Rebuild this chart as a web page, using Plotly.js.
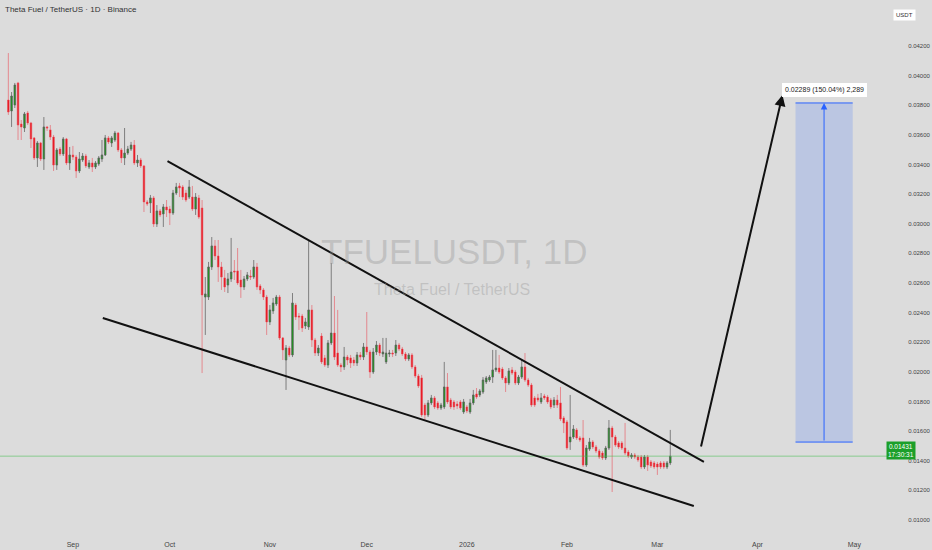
<!DOCTYPE html>
<html>
<head>
<meta charset="utf-8">
<script src="https://cdn.plot.ly/plotly-3.0.1.min.js"></script>
<style>
html,body{margin:0;padding:0;background:#dcdcdc;}
#chart{width:932px;height:550px;}
</style>
</head>
<body>
<div id="chart"></div>
<script>
// Daily candles, first candle date; one candle per day
const startDate = '2025-08-12';

const openP = [0.03835,0.03761,0.03801,0.03950,0.03673,0.03646,0.03747,0.03680,0.03579,0.03444,
0.03545,0.03437,0.03653,0.03633,0.03585,0.03396,0.03504,0.03471,0.03572,0.03410,
0.03464,0.03450,0.03356,0.03430,0.03457,0.03383,0.03410,0.03383,0.03403,0.03437,
0.03464,0.03579,0.03545,0.03565,0.03612,0.03498,0.03444,0.03477,0.03504,0.03531,
0.03410,0.03430,0.03390,0.03147,0.03140,0.03174,0.02998,0.03086,0.03066,0.03113,
0.03099,0.03072,0.03207,0.03255,0.03248,0.03207,0.03180,0.03180,0.03099,0.03174,
0.03106,0.02505,0.02505,0.02708,0.02850,0.02782,0.02708,0.02634,0.02586,0.02627,
0.02681,0.02681,0.02620,0.02573,0.02627,0.02647,0.02640,0.02708,0.02580,0.02553,
0.02505,0.02337,0.02411,0.02458,0.02505,0.02229,0.02080,0.02161,0.02114,0.02451,
0.02377,0.02377,0.02310,0.02303,0.02418,0.02215,0.02127,0.02242,0.02094,0.02046,
0.02195,0.02262,0.02127,0.02046,0.02033,0.02100,0.02094,0.02080,0.02060,0.02114,
0.02100,0.02168,0.02134,0.01999,0.02134,0.02181,0.02121,0.02067,0.02121,0.02127,
0.02127,0.02181,0.02154,0.02121,0.02087,0.02114,0.02033,0.01972,0.01959,0.01776,
0.01709,0.01790,0.01824,0.01790,0.01756,0.01763,0.01898,0.01810,0.01797,0.01783,
0.01797,0.01729,0.01763,0.01729,0.01790,0.01851,0.01844,0.01864,0.01932,0.01945,
0.01965,0.02013,0.02026,0.02019,0.01959,0.01925,0.02013,0.01999,0.01925,0.01965,
0.02033,0.01945,0.01911,0.01824,0.01824,0.01797,0.01837,0.01830,0.01810,0.01776,
0.01810,0.01790,0.01689,0.01662,0.01527,0.01560,0.01608,0.01554,0.01554,0.01371,
0.01479,0.01527,0.01493,0.01466,0.01452,0.01419,0.01486,0.01621,0.01560,0.01520,
0.01520,0.01486,0.01459,0.01425,0.01439,0.01425,0.01425,0.01358,0.01425,0.01392,
0.01385,0.01378,0.01385,0.01385,0.01358,0.01385];

const highP = [0.04152,0.03889,0.03950,0.03957,0.03700,0.03754,0.03761,0.03687,0.03585,0.03558,
0.03552,0.03720,0.03660,0.03666,0.03599,0.03511,0.03518,0.03585,0.03579,0.03518,
0.03525,0.03464,0.03484,0.03477,0.03471,0.03430,0.03444,0.03423,0.03457,0.03565,
0.03599,0.03592,0.03592,0.03626,0.03619,0.03511,0.03646,0.03525,0.03552,0.03565,
0.03464,0.03444,0.03396,0.03160,0.03194,0.03187,0.03126,0.03099,0.03133,0.03160,
0.03120,0.03228,0.03275,0.03275,0.03261,0.03228,0.03295,0.03255,0.03207,0.03194,
0.03160,0.02640,0.02742,0.02910,0.02890,0.02890,0.02742,0.02688,0.02667,0.02904,
0.02755,0.02836,0.02688,0.02647,0.02674,0.02688,0.02755,0.02735,0.02593,0.02566,
0.02519,0.02451,0.02499,0.02519,0.02519,0.02235,0.02181,0.02175,0.02532,0.02465,
0.02397,0.02391,0.02364,0.02890,0.02451,0.02229,0.02181,0.02262,0.02114,0.02215,
0.02735,0.02512,0.02418,0.02060,0.02168,0.02114,0.02114,0.02100,0.02134,0.02134,
0.02195,0.02404,0.02148,0.02161,0.02208,0.02195,0.02229,0.02229,0.02148,0.02148,
0.02215,0.02195,0.02168,0.02134,0.02127,0.02127,0.02046,0.01986,0.01979,0.01790,
0.01810,0.01844,0.01837,0.01803,0.01790,0.02067,0.01992,0.01824,0.01810,0.01803,
0.01810,0.01817,0.01776,0.01817,0.01878,0.01891,0.01884,0.01965,0.01972,0.01979,
0.02148,0.02148,0.02114,0.02033,0.01972,0.02026,0.02033,0.02013,0.01979,0.02080,
0.02127,0.01959,0.01925,0.01837,0.01851,0.01857,0.01851,0.01844,0.01824,0.01830,
0.01844,0.01898,0.01702,0.01675,0.01844,0.01641,0.01621,0.01567,0.01675,0.01506,
0.01554,0.01540,0.01506,0.01479,0.01466,0.01500,0.01675,0.01635,0.01574,0.01533,
0.01533,0.01655,0.01473,0.01452,0.01452,0.01439,0.01439,0.01439,0.01439,0.01405,
0.01398,0.01392,0.01398,0.01398,0.01398,0.01608];

const lowP = [0.03734,0.03653,0.03781,0.03565,0.03565,0.03619,0.03666,0.03511,0.03430,0.03383,
0.03423,0.03363,0.03626,0.03565,0.03356,0.03363,0.03457,0.03457,0.03396,0.03363,
0.03430,0.03309,0.03342,0.03417,0.03376,0.03369,0.03349,0.03369,0.03390,0.03417,
0.03457,0.03538,0.03518,0.03552,0.03484,0.03410,0.03396,0.03464,0.03491,0.03396,
0.03383,0.03376,0.03079,0.03120,0.03072,0.02978,0.02978,0.03045,0.02978,0.03045,
0.02991,0.03059,0.03194,0.03180,0.03160,0.03147,0.03167,0.03086,0.03059,0.03032,
0.01992,0.02249,0.02485,0.02688,0.02755,0.02607,0.02553,0.02539,0.02532,0.02607,
0.02620,0.02586,0.02499,0.02553,0.02613,0.02620,0.02627,0.02553,0.02526,0.02485,
0.02249,0.02316,0.02391,0.02445,0.02215,0.02080,0.01878,0.02100,0.02100,0.02350,
0.02283,0.02269,0.02289,0.02283,0.02168,0.02107,0.02107,0.02053,0.02033,0.02026,
0.02181,0.02080,0.02033,0.01999,0.02013,0.02046,0.02026,0.02040,0.02040,0.02080,
0.02080,0.02114,0.01959,0.01986,0.02114,0.02107,0.02100,0.02053,0.02100,0.02100,
0.02107,0.02141,0.02107,0.02073,0.02073,0.02019,0.01959,0.01891,0.01695,0.01675,
0.01695,0.01776,0.01749,0.01743,0.01743,0.01749,0.01783,0.01749,0.01743,0.01749,
0.01743,0.01716,0.01722,0.01716,0.01776,0.01817,0.01830,0.01851,0.01918,0.01932,
0.01925,0.01999,0.01986,0.01945,0.01864,0.01911,0.01979,0.01911,0.01911,0.01952,
0.01932,0.01898,0.01763,0.01763,0.01797,0.01783,0.01810,0.01783,0.01749,0.01756,
0.01756,0.01668,0.01587,0.01473,0.01473,0.01547,0.01540,0.01527,0.01358,0.01358,
0.01466,0.01479,0.01452,0.01412,0.01405,0.01405,0.01473,0.01189,0.01493,0.01479,
0.01473,0.01439,0.01419,0.01412,0.01412,0.01392,0.01344,0.01344,0.01331,0.01351,
0.01344,0.01304,0.01344,0.01344,0.01344,0.01371];

const closeP = [0.03754,0.03862,0.03936,0.03666,0.03653,0.03741,0.03680,0.03572,0.03444,0.03545,
0.03437,0.03653,0.03646,0.03585,0.03396,0.03498,0.03471,0.03572,0.03410,0.03464,
0.03450,0.03356,0.03437,0.03457,0.03390,0.03410,0.03383,0.03410,0.03444,0.03464,
0.03579,0.03552,0.03579,0.03612,0.03498,0.03444,0.03477,0.03504,0.03531,0.03410,
0.03430,0.03390,0.03147,0.03133,0.03174,0.02998,0.03086,0.03059,0.03113,0.03093,
0.03072,0.03207,0.03248,0.03241,0.03180,0.03160,0.03248,0.03099,0.03180,0.03045,
0.02519,0.02526,0.02708,0.02850,0.02782,0.02708,0.02640,0.02573,0.02627,0.02674,
0.02674,0.02600,0.02573,0.02627,0.02654,0.02640,0.02708,0.02573,0.02553,0.02505,
0.02337,0.02418,0.02465,0.02505,0.02229,0.02148,0.02161,0.02114,0.02465,0.02370,
0.02370,0.02296,0.02337,0.02418,0.02215,0.02127,0.02161,0.02067,0.02046,0.02195,
0.02262,0.02100,0.02046,0.02033,0.02100,0.02080,0.02060,0.02060,0.02114,0.02100,
0.02168,0.02134,0.01999,0.02134,0.02181,0.02127,0.02134,0.02127,0.02127,0.02121,
0.02181,0.02154,0.02121,0.02087,0.02114,0.02033,0.01972,0.01905,0.01709,0.01709,
0.01790,0.01824,0.01763,0.01756,0.01776,0.01898,0.01797,0.01763,0.01763,0.01770,
0.01756,0.01797,0.01736,0.01790,0.01844,0.01830,0.01871,0.01945,0.01959,0.01965,
0.02013,0.02026,0.01999,0.01959,0.01925,0.02006,0.01992,0.01925,0.01965,0.02033,
0.01945,0.01911,0.01776,0.01776,0.01810,0.01824,0.01824,0.01797,0.01763,0.01810,
0.01776,0.01682,0.01655,0.01486,0.01560,0.01614,0.01554,0.01540,0.01371,0.01486,
0.01527,0.01493,0.01466,0.01425,0.01419,0.01486,0.01621,0.01560,0.01506,0.01493,
0.01486,0.01452,0.01432,0.01439,0.01425,0.01405,0.01358,0.01425,0.01371,0.01365,
0.01358,0.01358,0.01358,0.01358,0.01385,0.01431];

// axis ticks
const yTickVals = [0.010,0.012,0.014,0.016,0.018,0.020,0.022,0.024,0.026,0.028,0.030,0.032,0.034,0.036,0.038,0.040,0.042];
const xTickVals = ['2025-09-01','2025-10-01','2025-11-01','2025-12-01','2026-01-01','2026-02-01','2026-03-01','2026-04-01','2026-05-01'];
const xTickText = ['Sep','Oct','Nov','Dec','2026','Feb','Mar','Apr','May'];

// drawings
const upperLine = {x: ['2025-09-30 07:00','2026-03-15 10:00'], y: [0.03423, 0.01392]};
const lowerLine = {x: ['2025-09-10 06:00','2026-03-12 07:00'], y: [0.02364, 0.01095]};
const bigArrow = {x: ['2026-03-14 10:00','2026-04-08 18:00'], y: [0.01486, 0.03869]};
const targetBox = {x: ['2026-04-12 19:00','2026-04-30 12:00'], y: [0.01526, 0.03815], mid: '2026-04-21 15:00'};
const lastPrice = 0.01431;
const measureText = '0.02289 (150.04%) 2,289';

// build dates
const dates = [];
{
  const d0 = new Date(startDate + 'T00:00:00Z');
  for (let i = 0; i < closeP.length; i++) {
    const d = new Date(d0.getTime() + i * 86400000);
    dates.push(d.toISOString().slice(0, 10));
  }
}

const FONT = 'Liberation Sans Narrow, Liberation Sans, Arial, sans-serif';

const trace = {
  type: 'candlestick',
  x: dates, open: openP, high: highP, low: lowP, close: closeP,
  increasing: {line: {color: 'rgba(95,95,95,0.75)', width: 1}, fillcolor: '#10a010'},
  decreasing: {line: {color: 'rgba(235,70,80,0.55)', width: 1}, fillcolor: '#e8121c'},
  whiskerwidth: 0,
  hoverinfo: 'skip',
  showlegend: false
};

const layout = {
  width: 932, height: 550,
  margin: {l: 0, r: 47, t: 0, b: 18},
  paper_bgcolor: '#dcdcdc',
  plot_bgcolor: '#dcdcdc',
  showlegend: false,
  font: {family: FONT, color: '#333'},
  xaxis: {
    type: 'date',
    range: ['2025-08-09 10:00', '2026-05-10 12:00'],
    rangeslider: {visible: false},
    showgrid: false, zeroline: false, showline: false,
    tickmode: 'array', tickvals: xTickVals, ticktext: xTickText,
    ticks: 'outside', ticklen: 6, tickcolor: 'rgba(0,0,0,0)',
    tickfont: {size: 7, family: FONT, color: '#444'}
  },
  yaxis: {
    side: 'right',
    range: [0.00919, 0.0451],
    showgrid: false, zeroline: false, showline: false,
    tickmode: 'array', tickvals: yTickVals, tickformat: '.5f',
    ticks: 'outside', ticklen: 21, tickcolor: 'rgba(0,0,0,0)',
    tickfont: {size: 6, family: FONT, color: '#444'}
  },
  shapes: [
    {type: 'line', xref: 'paper', x0: 0, x1: 1.03, yref: 'y', y0: lastPrice, y1: lastPrice,
     line: {color: 'rgba(70,190,80,0.55)', width: 1}},
    {type: 'line', xref: 'x', yref: 'y', x0: upperLine.x[0], x1: upperLine.x[1], y0: upperLine.y[0], y1: upperLine.y[1],
     line: {color: '#111', width: 2}},
    {type: 'line', xref: 'x', yref: 'y', x0: lowerLine.x[0], x1: lowerLine.x[1], y0: lowerLine.y[0], y1: lowerLine.y[1],
     line: {color: '#111', width: 2}},
    {type: 'rect', xref: 'x', yref: 'y', x0: targetBox.x[0], x1: targetBox.x[1], y0: targetBox.y[0], y1: targetBox.y[1],
     fillcolor: 'rgba(41,98,255,0.18)', line: {width: 0}},
    {type: 'line', xref: 'x', yref: 'y', x0: targetBox.x[0], x1: targetBox.x[1], y0: targetBox.y[0], y1: targetBox.y[0],
     line: {color: '#2962ff', width: 1}},
    {type: 'line', xref: 'x', yref: 'y', x0: targetBox.x[0], x1: targetBox.x[1], y0: targetBox.y[1], y1: targetBox.y[1],
     line: {color: '#2962ff', width: 1}}
  ],
  annotations: [
    {xref: 'x', yref: 'y', axref: 'x', ayref: 'y',
     x: bigArrow.x[1], y: bigArrow.y[1], ax: bigArrow.x[0], ay: bigArrow.y[0],
     showarrow: true, arrowhead: 2, arrowsize: 1.1, arrowwidth: 2, arrowcolor: '#111', text: ''},
    {xref: 'x', yref: 'y', axref: 'x', ayref: 'y',
     x: targetBox.mid, y: targetBox.y[1], ax: targetBox.mid, ay: targetBox.y[0],
     showarrow: true, arrowhead: 2, arrowsize: 1.3, arrowwidth: 1, arrowcolor: '#2962ff', text: ''},
    {xref: 'x', yref: 'y', x: targetBox.mid, y: 0.03903, showarrow: false,
     text: measureText, font: {size: 7, family: FONT, color: '#222'},
     bgcolor: '#ffffff', borderpad: 3, bordercolor: '#f4f4f4', borderwidth: 0},
    {xref: 'paper', yref: 'paper', x: 454 / 885, y: 1 - 252 / 532, showarrow: false,
     text: 'TFUELUSDT, 1D', font: {size: 35, family: FONT, color: 'rgba(150,150,150,0.38)'}},
    {xref: 'paper', yref: 'paper', x: 452 / 885, y: 1 - 289 / 532, showarrow: false,
     text: 'Theta Fuel / TetherUS', font: {size: 16, family: FONT, color: 'rgba(150,150,150,0.38)'}},
    {xref: 'paper', yref: 'paper', x: 3 / 885, y: 1 - 3 / 532, xanchor: 'left', yanchor: 'top', showarrow: false,
     text: 'Theta Fuel / TetherUS · 1D · Binance', font: {size: 8, family: FONT, color: '#333'}},
    {xref: 'paper', yref: 'paper', x: 916 / 885, y: 1 - 9 / 532, showarrow: false,
     text: 'USDT', font: {size: 6, family: FONT, color: '#333'}, bgcolor: '#ffffff', borderpad: 2},
    {xref: 'paper', yref: 'paper', x: 916 / 885, y: 1 - 460 / 532, showarrow: false,
     text: '0.01431<br>17:30:31', align: 'center', font: {size: 6.5, family: FONT, color: '#ffffff'},
     bgcolor: '#1c9f2a', borderpad: 1}
  ]
};

Plotly.newPlot('chart', [trace], layout, {displayModeBar: false, staticPlot: true});
</script>
</body>
</html>
